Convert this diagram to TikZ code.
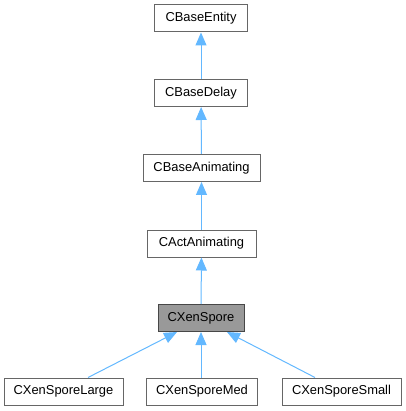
\documentclass[tikz,border=0pt]{standalone}
\usepackage{fontspec}
\setmainfont{Liberation Sans}
\usetikzlibrary{arrows.meta}
\definecolor{boxborder}{HTML}{666666}
\definecolor{edgeblue}{HTML}{63B8FF}
\definecolor{hifill}{HTML}{999999}
\begin{document}
\begin{tikzpicture}[x=1pt,y=-1pt,
  cls/.style={draw=boxborder, fill=white, line width=1pt, minimum height=27pt, inner sep=0pt, font=\fontsize{12.9}{14}\selectfont},
  hi/.style={cls, fill=hifill, draw=boxborder!70!black},
  edge/.style={draw=edgeblue, line width=1pt, -{Triangle[length=13pt,width=11pt]}}]
\useasboundingbox (0,0) rectangle (405,411);
\node[cls, minimum width=93pt] (entity) at (201,18.5) {CBaseEntity};
\node[cls, minimum width=93pt] (delay) at (201,93) {CBaseDelay};
\node[cls, minimum width=117pt] (animating) at (201.5,168) {CBaseAnimating};
\node[cls, minimum width=109pt] (act) at (201.5,243.5) {CActAnimating};
\node[hi, minimum width=86pt] (spore) at (201,318) {CXenSpore};
\node[cls, minimum width=119pt] (large) at (63.5,391.5) {CXenSporeLarge};
\node[cls, minimum width=111pt] (med) at (202,391.5) {CXenSporeMed};
\node[cls, minimum width=119pt] (small) at (341.5,391.5) {CXenSporeSmall};
\draw[edge] (delay) -- (entity);
\draw[edge] (animating) -- (delay);
\draw[edge] (act) -- (animating);
\draw[edge] (spore) -- (act);
\draw[edge] (med.north -| spore.south) -- (spore.south);
\draw[edge] ([xshift=24.5pt]large.north) -- ([xshift=-24pt]spore.south);
\draw[edge] ([xshift=-26.5pt]small.north) -- ([xshift=26pt]spore.south);
\end{tikzpicture}
\end{document}
